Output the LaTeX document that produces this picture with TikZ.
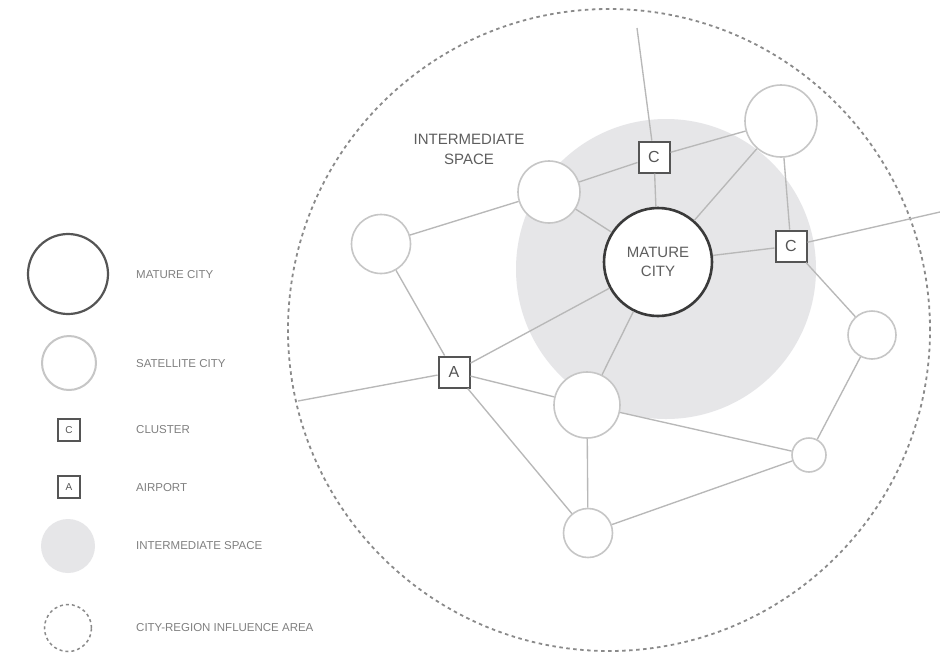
\documentclass[tikz,border=0pt]{standalone}
\usepackage{fontspec}
\setmainfont{Liberation Sans}
\begin{document}
\begin{tikzpicture}[x=1pt,y=-1pt,
  edge/.style={draw=edgegray,line width=1.35pt},
  sat/.style={circle,draw=satgray,line width=1.6pt,fill=white,inner sep=0pt},
  mature/.style={circle,draw=darkgray2,line width=2.6pt,fill=white,inner sep=0pt,align=center,text=txtgray,font=\fontsize{15}{19}\selectfont},
  boxnode/.style={rectangle,draw=boxgray,line width=2pt,fill=white,inner sep=0pt,minimum size=31pt,text=boxgray,font=\fontsize{16}{16}\selectfont},
  smallbox/.style={rectangle,draw=boxgray,line width=1.6pt,fill=white,inner sep=0pt,minimum size=22pt,text=boxgray,font=\fontsize{10}{10}\selectfont},
  legtext/.style={anchor=west,text=legtxt,font=\fontsize{11.5}{12}\selectfont,inner sep=0pt},
  influence/.style={draw=dashgray,line width=1.8pt,dash pattern=on 3.5pt off 3.5pt}
]
\definecolor{edgegray}{HTML}{B8B8B8}
\definecolor{satgray}{HTML}{C6C6C6}
\definecolor{darkgray2}{HTML}{3A3A3A}
\definecolor{boxgray}{HTML}{555555}
\definecolor{txtgray}{HTML}{5E5E5E}
\definecolor{legtxt}{HTML}{808080}
\definecolor{dashgray}{HTML}{8A8A8A}
\definecolor{spacegray}{HTML}{E6E6E8}
\useasboundingbox (0,0) rectangle (940,657);
\fill[white] (0,0) rectangle (940,657);

% intermediate space
\node[circle,fill=spacegray,minimum size=300pt,inner sep=0pt] (space) at (666,269) {};
% influence area
\node[circle,influence,minimum size=642pt,inner sep=0pt] (influence) at (609,330) {};

\node[text=txtgray,align=center,font=\fontsize{15}{20}\selectfont] (islabel) at (469,149) {INTERMEDIATE\\SPACE};

% nodes
\node[mature,minimum size=108pt] (mc) at (658,262) {MATURE\\CITY};
\node[sat,minimum size=72pt] (tr) at (781,121) {};
\node[sat,minimum size=62pt] (ul) at (549,192) {};
\node[sat,minimum size=59pt] (fl) at (381,244) {};
\node[sat,minimum size=48pt] (rs) at (872,335) {};
\node[sat,minimum size=66pt] (lm) at (587,405) {};
\node[sat,minimum size=34pt] (sr) at (809,455) {};
\node[sat,minimum size=49pt] (bt) at (588,533) {};
\node[boxnode] (c1) at (654,157) {C};
\node[boxnode] (c2) at (791,246) {C};
\node[boxnode] (ap) at (454,372) {A};

\coordinate (topend) at (637,28);
\coordinate (rightend) at (940,212);
\coordinate (leftend) at (298,401);

% connectors
\draw[edge] (topend) -- (c1);
\draw[edge] (c1) -- (mc);
\draw[edge] (c1) -- (ul);
\draw[edge] (c1) -- (tr);
\draw[edge] (ul) -- (mc);
\draw[edge] (tr) -- (mc);
\draw[edge] (tr) -- (c2);
\draw[edge] (mc) -- (c2);
\draw[edge] (c2) -- (rightend);
\draw[edge] (c2) -- (rs);
\draw[edge] (fl) -- (ul);
\draw[edge] (fl) -- (ap);
\draw[edge] (ap) -- (mc);
\draw[edge] (ap) -- (leftend);
\draw[edge] (ap) -- (lm);
\draw[edge] (ap) -- (bt);
\draw[edge] (mc) -- (lm);
\draw[edge] (lm) -- (sr);
\draw[edge] (lm) -- (bt);
\draw[edge] (bt) -- (sr);
\draw[edge] (sr) -- (rs);

% legend
\node[circle,draw=boxgray,line width=2.2pt,minimum size=80pt,inner sep=0pt] (lgmc) at (68,274) {};
\node[legtext] (lgmct) at (136,275) {MATURE CITY};
\node[circle,draw=satgray,line width=2pt,minimum size=54pt,inner sep=0pt] (lgsat) at (69,363) {};
\node[legtext] (lgsatt) at (136,364) {SATELLITE CITY};
\node[smallbox] (lgc) at (69,430) {C};
\node[legtext] (lgct) at (136,430) {CLUSTER};
\node[smallbox] (lga) at (69,487) {A};
\node[legtext] (lgat) at (136,488) {AIRPORT};
\node[circle,fill=spacegray,minimum size=54pt,inner sep=0pt] (lgsp) at (68,546) {};
\node[legtext] (lgspt) at (136,546) {INTERMEDIATE SPACE};
\node[circle,draw=dashgray,line width=1.5pt,dash pattern=on 3pt off 3pt,minimum size=47pt,inner sep=0pt] (lgin) at (68,628) {};
\node[legtext] (lgint) at (136,628) {CITY-REGION INFLUENCE AREA};
\end{tikzpicture}
\end{document}
